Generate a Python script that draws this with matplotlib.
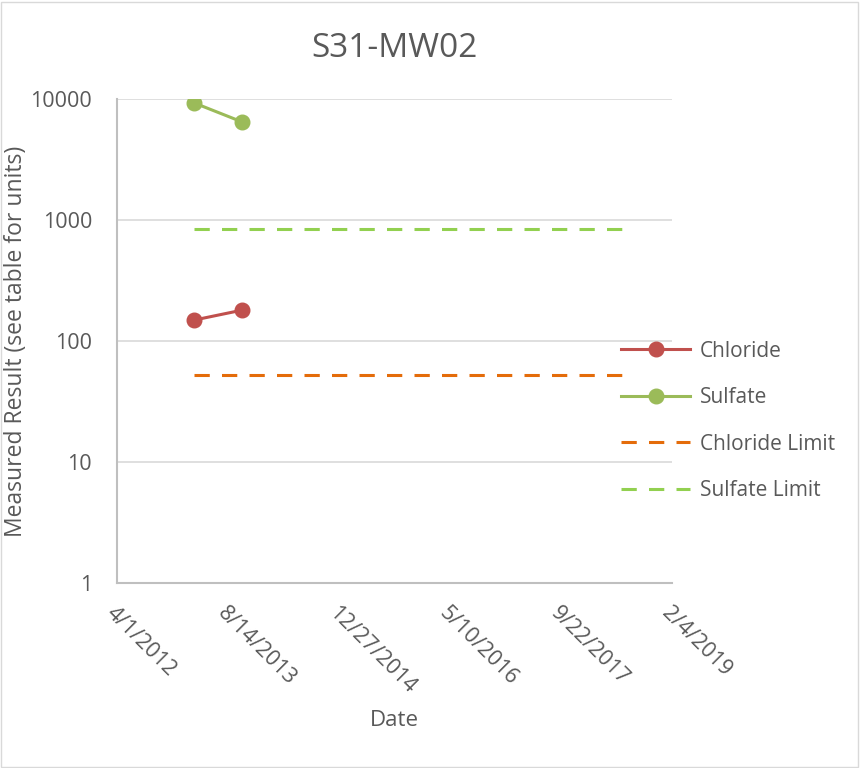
import matplotlib.pyplot as plt
import matplotlib.dates as mdates
import pandas as pd

# sample data
sample_dates = pd.to_datetime(["2013-03-15", "2013-10-17"])
chloride = [149, 180]
sulfate = [9270, 6460]

limit_dates = pd.to_datetime(["2013-03-15", "2018-06-27"])
chloride_limit = [52, 52]
sulfate_limit = [840, 840]

tick_dates = pd.to_datetime(["2012-04-01", "2013-08-14", "2014-12-27",
                             "2016-05-10", "2017-09-22", "2019-02-04"])
tick_labels = ["4/1/2012", "8/14/2013", "12/27/2014", "5/10/2016", "9/22/2017", "2/4/2019"]
y_ticks = [1, 10, 100, 1000, 10000]

plt.rcParams['font.family'] = ['Open Sans', 'DejaVu Sans']
txt = '#595959'

fig = plt.figure(figsize=(8.63, 7.68), dpi=100)
ax = fig.add_axes([117 / 863, 1 - 583 / 768, 555 / 863, 484 / 768])

ax.plot(sample_dates, chloride, color='#C0504D', lw=2.2, marker='o', markersize=10.5, label='Chloride')
ax.plot(sample_dates, sulfate, color='#9BBB59', lw=2.2, marker='o', markersize=10.5, label='Sulfate')
ax.plot(limit_dates, chloride_limit, color='#E46C0A', lw=2.2, dashes=(5, 4), label='Chloride Limit')
ax.plot(limit_dates, sulfate_limit, color='#92D050', lw=2.2, dashes=(5, 4), label='Sulfate Limit')

ax.set_yscale('log')
ax.set_ylim(1, 10000)
ax.set_yticks(y_ticks)
ax.set_yticklabels([str(v) for v in y_ticks])
ax.minorticks_off()
ax.set_xlim(tick_dates[0], tick_dates[-1])
ax.set_xticks(tick_dates)
ax.set_xticklabels(tick_labels, rotation=-45, ha='left', va='top', rotation_mode='anchor')

ax.grid(axis='y', color='#D9D9D9', lw=1.2)
ax.set_axisbelow(True)
for s in ['top', 'right']:
    ax.spines[s].set_visible(False)
for s in ['left', 'bottom']:
    ax.spines[s].set_color('#BFBFBF')
    ax.spines[s].set_linewidth(1.5)
ax.tick_params(length=0, labelsize=15.5, labelcolor=txt)
ax.tick_params(axis='y', pad=18)
ax.tick_params(axis='x', pad=14)

ax.set_title('S31-MW02', fontsize=24, color=txt, pad=30)
ax.set_xlabel('Date', fontsize=16, color=txt, labelpad=9)
ax.set_ylabel('Measured Result (see table for units)', fontsize=16.5, color=txt)
ax.yaxis.set_label_coords(-0.161, 0.5)

leg = ax.legend(loc='center left', bbox_to_anchor=(0.875, 0.335), frameon=False,
                fontsize=15, labelspacing=1.22, handlelength=3.3, handletextpad=0.45,
                labelcolor=txt)

# chart area border
fig.patches.append(plt.Rectangle((0.001, 0.001), 0.993, 0.997, transform=fig.transFigure,
                                 fill=False, edgecolor='#D9D9D9', lw=1))

fig.savefig('out.png', dpi=100)
